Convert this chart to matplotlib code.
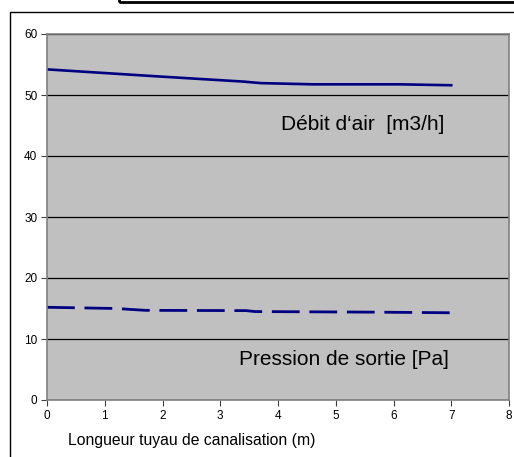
import matplotlib.pyplot as plt
from matplotlib.patches import Rectangle

# data
longueur_debit = [0, 1, 2, 3.4, 3.7, 4.6, 6.1, 7]
debit_air = [54.2, 53.6, 53.0, 52.2, 51.95, 51.75, 51.75, 51.6]

longueur_pression = [0, 1.2, 1.7, 3.45, 3.6, 5.7, 7]
pression_sortie = [15.2, 15.0, 14.7, 14.65, 14.5, 14.4, 14.3]

x_ticks = [0, 1, 2, 3, 4, 5, 6, 7, 8]
y_ticks = [0, 10, 20, 30, 40, 50, 60]

plt.rcParams['font.family'] = ['Liberation Sans', 'DejaVu Sans']

fig = plt.figure(figsize=(5.14, 4.57), dpi=100)
W, H = 514, 457

# outer chart frame and the box above it
fig.patches.append(Rectangle((10 / W, -0.1), 1.2, (457 - 12) / H + 0.1,
                             transform=fig.transFigure, fill=False,
                             edgecolor='black', linewidth=1.0))
fig.patches.append(Rectangle((119 / W, (457 - 2) / H), 1.0, 0.2,
                             transform=fig.transFigure, fill=False,
                             edgecolor='black', linewidth=2.0))

ax = fig.add_axes([47 / W, 57 / H, 462 / W, 366 / H])
ax.set_facecolor('#C0C0C0')

ax.plot(longueur_debit, debit_air, color='#000080', linewidth=1.9)
ax.plot(longueur_pression, pression_sortie, color='#000080', linewidth=2.0,
        dashes=(10, 3.5))

ax.set_xlim(0, 8)
ax.set_ylim(0, 60)
ax.set_xticks(x_ticks)
ax.set_yticks(y_ticks)
ax.yaxis.grid(True, color='black', linewidth=0.9)
ax.set_axisbelow(True)

for s in ax.spines.values():
    s.set_color('#808080')
    s.set_linewidth(1.2)

ax.tick_params(axis='both', labelsize=8.5, length=4, width=0.8, color='#404040',
               pad=3)

ax.text(4.05, 45.2, 'Débit d‘air  [m3/h]', fontsize=15, va='center')
ax.text(3.32, 6.6, 'Pression de sortie [Pa]', fontsize=15, va='center')

fig.text(68 / W, (457 - 440) / H, 'Longueur tuyau de canalisation (m)',
         fontsize=11.3, va='center')

fig.savefig('out.png', dpi=100)
